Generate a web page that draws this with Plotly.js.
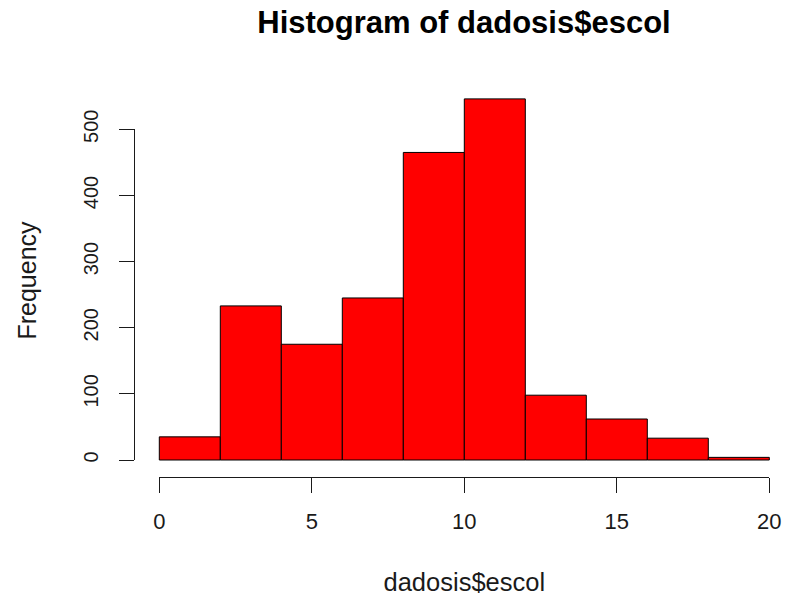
<!DOCTYPE html>
<html>
<head>
<meta charset="utf-8">
<script src="https://cdn.plot.ly/plotly-3.0.1.min.js"></script>
<style>
  html, body { margin: 0; padding: 0; background: #ffffff; }
  #chart { width: 794px; height: 596px; }
</style>
</head>
<body>
<div id="chart"></div>
<script>
// Histogram of years of schooling (dadosis$escol), bins of width 2
const binStarts = [0, 2, 4, 6, 8, 10, 12, 14, 16, 18];
const binWidth = 2;
const counts = [35, 233, 175, 245, 465, 546, 98, 62, 33, 4];

// Axis tick labels
const xTicks = [0, 5, 10, 15, 20];
const yTicks = [0, 100, 200, 300, 400, 500];

// Plot region extents (data units) with the usual padding around the bins
const xlo = -0.83, xhi = 20.81;
const ylo = -25.7, yhi = 568.5;

// Detached axes only span the tick range, like base R graphics
const xFirst = xTicks[0], xLast = xTicks[xTicks.length - 1];
const yFirst = yTicks[0], yLast = yTicks[yTicks.length - 1];
const xDomain = [(xFirst - xlo) / (xhi - xlo), (xLast - xlo) / (xhi - xlo)];
const yDomain = [(yFirst - ylo) / (yhi - ylo), (yLast - ylo) / (yhi - ylo)];

const font = 'Liberation Sans, Arial, sans-serif';
const ink = '#1a1a1a';

const bars = {
  type: 'bar',
  x: binStarts,
  y: counts,
  width: binWidth,
  offset: 0,
  marker: { color: '#ff0000', line: { color: '#000000', width: 1 } },
  hoverinfo: 'x+y',
  showlegend: false
};

// empty trace that carries the detached axes
const axisCarrier = {
  type: 'scatter', mode: 'markers', x: [], y: [],
  xaxis: 'x2', yaxis: 'y2', showlegend: false, hoverinfo: 'skip'
};

const layout = {
  width: 794,
  height: 596,
  margin: { l: 134, r: 0, t: 84, b: 119 },
  paper_bgcolor: '#ffffff',
  plot_bgcolor: 'rgba(0,0,0,0)',
  bargap: 0,
  showlegend: false,
  title: {
    text: '<b>Histogram of dadosis$escol</b>',
    font: { family: font, size: 31, color: '#000000' },
    xref: 'paper', x: 0.5, xanchor: 'center',
    yref: 'container', y: 0.962, yanchor: 'middle'
  },
  xaxis: { range: [xlo, xhi], visible: false, fixedrange: true },
  // the full-height axis only carries the "Frequency" title, centred on the plot region
  yaxis: {
    range: [ylo, yhi], visible: true, fixedrange: true,
    showline: false, showgrid: false, zeroline: false,
    ticks: '', showticklabels: false,
    title: { text: 'Frequency', font: { family: font, size: 25, color: ink }, standoff: 89 }
  },
  xaxis2: {
    domain: xDomain, range: [xFirst, xLast],
    anchor: 'free', position: 0,
    showline: true, linecolor: ink, linewidth: 1,
    ticks: 'outside', ticklen: 15, tickwidth: 1, tickcolor: ink,
    tickmode: 'array', tickvals: xTicks, ticktext: xTicks.map(String),
    ticklabelstandoff: 10,
    tickfont: { family: font, size: 22, color: ink },
    showgrid: false, zeroline: false, fixedrange: true,
    title: { text: 'dadosis$escol', font: { family: font, size: 25.5, color: ink }, standoff: 42 }
  },
  yaxis2: {
    domain: yDomain, range: [yFirst, yLast],
    anchor: 'free', position: 0, side: 'left',
    showline: true, linecolor: ink, linewidth: 1,
    ticks: 'outside', ticklen: 15, tickwidth: 1, tickcolor: ink,
    tickmode: 'array', tickvals: yTicks, ticktext: yTicks.map(String),
    tickangle: -90,
    ticklabelstandoff: 13,
    tickfont: { family: font, size: 20, color: ink },
    showgrid: false, zeroline: false, fixedrange: true
  }
};

Plotly.newPlot('chart', [bars, axisCarrier], layout, { displayModeBar: false, staticPlot: true });
</script>
</body>
</html>
